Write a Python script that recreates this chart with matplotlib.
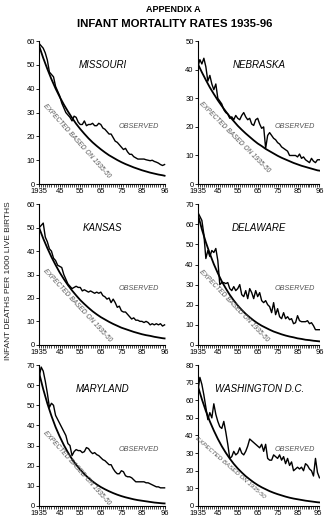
import matplotlib
matplotlib.use("Agg")
import matplotlib.pyplot as plt
import numpy as np
from matplotlib.ticker import MultipleLocator

plt.rcParams['font.family'] = ['Liberation Sans', 'DejaVu Sans']

years = list(range(1935, 1997))
exp_years = list(range(1935, 1996, 2)) + [1996]

# observed infant deaths per 1000 live births, 1935-1996
missouri_obs = [59, 58, 57, 55, 52, 47, 46, 45, 41, 39, 37, 34, 32, 30, 29, 28,
                26.5, 28.5, 28, 26, 25, 25, 26.5, 24.5, 25, 25, 25.5, 24.5, 24.5,
                25.5, 25, 23.5, 23, 22, 21, 21, 19.5, 18, 17.5, 16.5, 15.5, 14.5,
                15, 13.5, 12.5, 12.5, 11.5, 11, 10.5, 10.5, 10.5, 10.5, 10.2, 10,
                9.8, 10, 9.5, 9.2, 8.8, 8.2, 7.8, 8.2]
nebraska_obs = [41, 43.5, 42, 44, 41, 36, 38, 35, 33, 35, 30, 29, 28, 26, 25, 24.5,
                23, 23.5, 22.5, 24, 23, 22.5, 24, 25, 23.5, 22.5, 23, 21, 20.5, 22.5,
                23, 21, 19.5, 20, 12.5, 17, 18, 17, 16, 15.5, 14.5, 14, 13, 12.5, 12,
                11.5, 10, 10, 10, 10, 9.5, 10.5, 9, 9.5, 8.5, 8, 7.5, 9, 8, 7.5, 8.5,
                8.5]
kansas_obs = [50, 51, 52, 46, 44, 41, 40, 37, 36, 34, 33.5, 33, 30, 28, 26, 25, 24,
              24.5, 25, 24.5, 24.5, 23, 23.5, 23, 22.5, 23, 22.5, 22, 22.5, 22, 22.5,
              21, 20.5, 19.5, 20, 18, 19.5, 18, 16, 16.5, 14.5, 14, 14, 13, 12, 11,
              11.5, 10.5, 10.5, 10, 10, 9.5, 10, 9.5, 8.5, 9, 8.5, 9, 8.5, 9, 8, 8.5]
delaware_obs = [66, 64, 62, 55, 43, 47, 44, 47, 46, 48, 42, 30, 31, 31, 30.5, 31, 28,
                27, 29, 27, 28, 30, 25, 24, 27, 23, 28, 26, 23, 27, 24, 26, 22, 21, 22,
                20, 19, 16, 21, 15, 18, 14, 13, 16, 13, 14, 12.5, 13, 10.5, 11, 14.5,
                12, 11.5, 11.5, 11.5, 12, 10.5, 11, 9.5, 7.5, 7.5, 7.5]
maryland_obs = [64, 69, 67, 62, 56, 49, 51, 50, 45, 43, 41, 39, 37, 35, 31, 30, 25,
                27, 28, 27.5, 27.5, 26.5, 27, 29, 28.5, 27, 26, 26.5, 25.5, 25, 24, 23,
                22.5, 21.5, 20.5, 20.5, 18.5, 17, 16, 16, 17.5, 17, 15, 14.5, 14.5, 14,
                13, 12, 12, 12, 12, 12, 11.5, 11.5, 11, 10.5, 10, 9.5, 9.5, 9, 9, 9]
dc_obs = [65, 73, 69, 63, 56, 49, 53, 50, 58, 52, 48, 45, 44, 48, 42, 35, 27, 28, 31,
          29, 30, 33, 30, 29, 31, 34, 38, 37, 36, 35, 34, 33, 35, 31, 35, 27, 26, 26,
          29, 28, 27, 29, 26, 28, 24, 27, 23, 25, 20, 21, 22, 21, 22, 20, 24, 23, 21,
          20, 17, 27, 19, 16]

# expected rates based on 1935-50 (read every two years, plus 1996)
missouri_exp = [58.0, 52.9, 48.3, 44.0, 40.1, 36.6, 33.4, 30.5, 27.8, 25.3, 23.1,
                21.1, 19.2, 17.5, 16.0, 14.6, 13.3, 12.1, 11.1, 10.1, 9.2, 8.4, 7.7,
                7.0, 6.4, 5.8, 5.3, 4.8, 4.4, 4.0, 3.7, 3.5]
nebraska_exp = [42.0, 39.1, 36.4, 33.8, 31.5, 29.3, 27.3, 25.4, 23.6, 22.0, 20.4,
                19.0, 17.7, 16.5, 15.3, 14.2, 13.3, 12.3, 11.5, 10.7, 9.9, 9.2, 8.6,
                8.0, 7.4, 6.9, 6.4, 6.0, 5.6, 5.2, 4.8, 4.7]
kansas_exp = [50.0, 45.4, 41.3, 37.5, 34.1, 30.9, 28.1, 25.5, 23.2, 21.1, 19.1, 17.4,
              15.8, 14.3, 13.0, 11.8, 10.8, 9.8, 8.9, 8.1, 7.3, 6.7, 6.1, 5.5, 5.0,
              4.5, 4.1, 3.8, 3.4, 3.1, 2.8, 2.7]
delaware_exp = [65.0, 57.6, 51.1, 45.4, 40.2, 35.7, 31.6, 28.1, 24.9, 22.1, 19.6,
                17.4, 15.4, 13.7, 12.1, 10.7, 9.5, 8.5, 7.5, 6.6, 5.9, 5.2, 4.6, 4.1,
                3.7, 3.2, 2.9, 2.5, 2.3, 2.0, 1.8, 1.7]
maryland_exp = [66.0, 58.0, 50.9, 44.7, 39.2, 34.5, 30.3, 26.6, 23.3, 20.5, 18.0,
                15.8, 13.9, 12.2, 10.7, 9.4, 8.3, 7.3, 6.4, 5.6, 4.9, 4.3, 3.8, 3.3,
                2.9, 2.6, 2.3, 2.0, 1.7, 1.5, 1.3, 1.25]
dc_exp = [68.0, 60.6, 53.9, 48.0, 42.8, 38.1, 33.9, 30.2, 26.9, 23.9, 21.3, 19.0,
          16.9, 15.1, 13.4, 11.9, 10.6, 9.5, 8.4, 7.5, 6.7, 6.0, 5.3, 4.7, 4.2, 3.8,
          3.4, 3.0, 2.7, 2.4, 2.1, 2.0]

states = ["MISSOURI", "NEBRASKA", "KANSAS", "DELAWARE", "MARYLAND", "WASHINGTON D.C."]
observed = [missouri_obs, nebraska_obs, kansas_obs, delaware_obs, maryland_obs, dc_obs]
expected = [missouri_exp, nebraska_exp, kansas_exp, delaware_exp, maryland_exp, dc_exp]
y_max = [60, 50, 60, 70, 70, 80]
last_label = ["96", "96", "96", "96", "96", "95"]

xtick_pos = [1935, 1945, 1955, 1965, 1975, 1985]
xtick_lab = ["1935", "45", "55", "65", "75", "85"]

# placement of the "EXPECTED ..." note: (x, y, angle, size) in axes fractions
exp_note = [(0.30, 0.30, -48, 4.8), (0.30, 0.33, -45, 4.8), (0.30, 0.28, -47, 4.8),
            (0.29, 0.28, -46, 4.8), (0.30, 0.27, -48, 4.8), (0.26, 0.27, -41, 4.4)]

fig = plt.figure(figsize=(3.26, 5.20), dpi=100)

lefts = [0.120, 0.607]
widths = [0.388, 0.376]
rows = [(0.646, 0.275), (0.337, 0.270), (0.027, 0.271)]

fig.text(0.532, 0.981, "APPENDIX A", ha='center', va='center',
         fontsize=6.5, fontweight='bold')
fig.text(0.535, 0.953, "INFANT MORTALITY RATES 1935-96", ha='center', va='center',
         fontsize=8.2, fontweight='bold')
fig.text(0.025, 0.46, "INFANT DEATHS PER 1000 LIVE BIRTHS", rotation=90,
         ha='center', va='center', fontsize=6.0, color='#222222')

for i, name in enumerate(states):
    bottom, height = rows[i // 2]
    ax = fig.add_axes([lefts[i % 2], bottom, widths[i % 2], height])
    ymax = y_max[i]

    ax.plot(years, observed[i], color='black', lw=1.0)
    ax.plot(exp_years, expected[i], color='black', lw=1.3)

    ax.set_xlim(1935, 1996.5)
    ax.set_ylim(0, ymax)
    for side in ['top', 'right']:
        ax.spines[side].set_visible(False)
    ax.spines['left'].set_bounds(0, ymax)
    ax.spines['bottom'].set_bounds(1935, 1996)
    for side in ['left', 'bottom']:
        ax.spines[side].set_linewidth(0.8)

    last = 1996 if last_label[i] == "96" else 1995
    ax.set_xticks(xtick_pos + [last])
    ax.set_xticklabels(xtick_lab + [last_label[i]])
    ax.xaxis.set_minor_locator(MultipleLocator(1))
    ax.set_yticks(np.arange(0, ymax + 1, 10))
    ax.tick_params(axis='both', which='major', length=2, width=0.6,
                   labelsize=5.5, pad=1, direction='out')
    ax.tick_params(axis='x', which='minor', length=2, width=0.5, direction='out')

    ax.text(0.50, 0.83, name, transform=ax.transAxes, ha='center', va='center',
            fontsize=7, style='italic')
    ax.text(0.79, 0.40, "OBSERVED", transform=ax.transAxes, ha='center',
            va='center', fontsize=5.2, style='italic', color='#555555')
    nx, ny, ang, fs = exp_note[i]
    ax.text(nx, ny, "EXPECTED BASED ON 1935-50", transform=ax.transAxes,
            ha='center', va='center', fontsize=fs, style='italic',
            color='#555555', rotation=ang, rotation_mode='anchor')

fig.savefig("out.png", dpi=100)
